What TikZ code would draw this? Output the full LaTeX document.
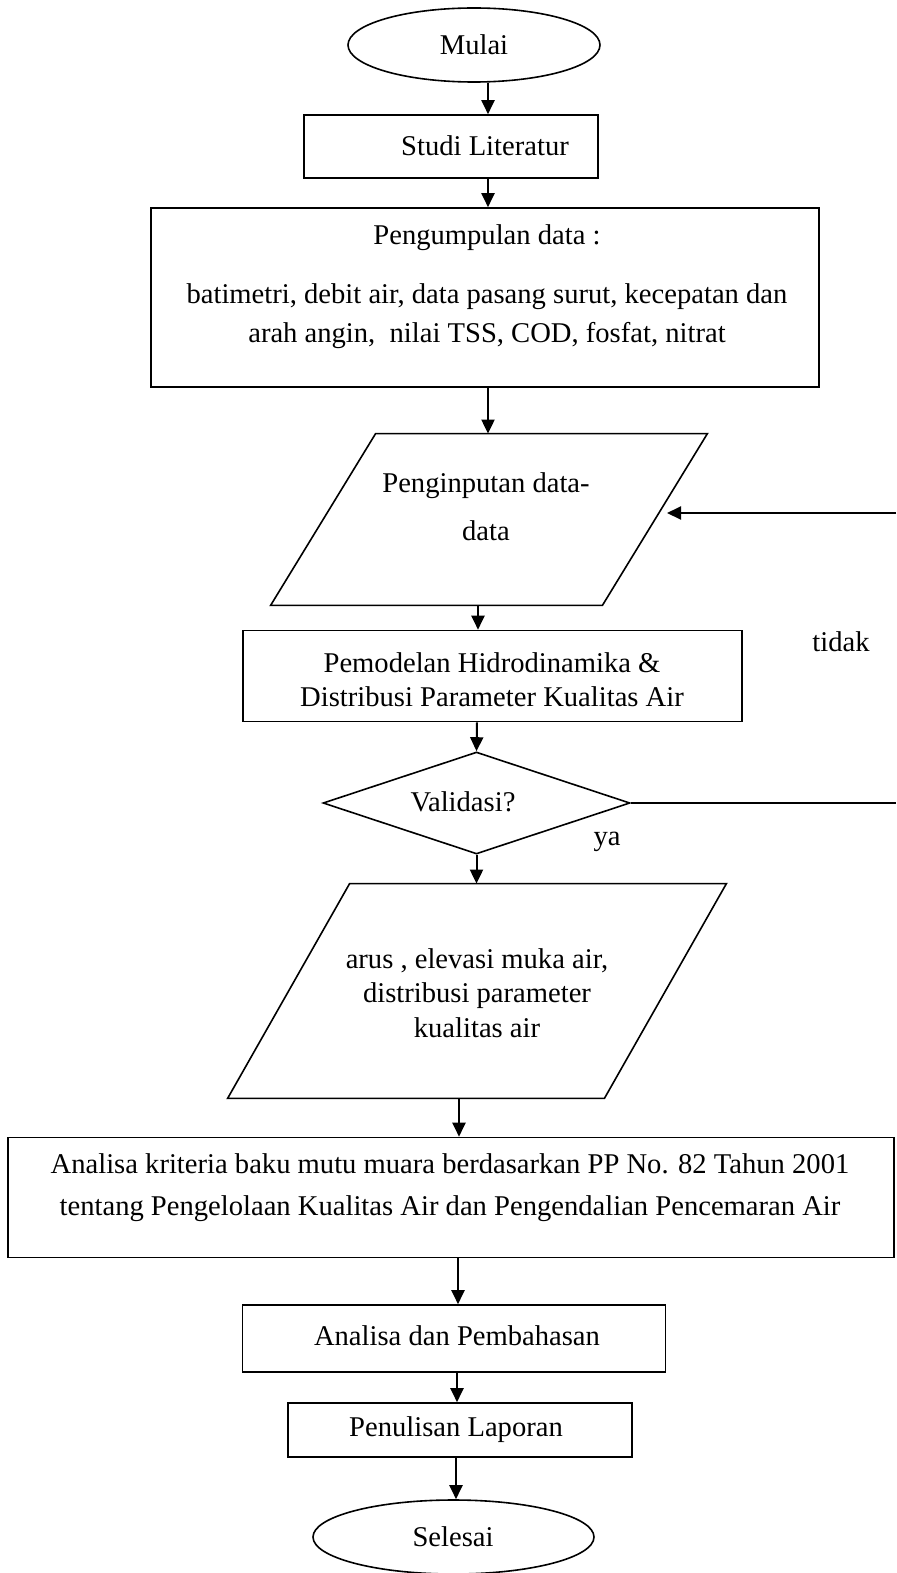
\documentclass[tikz,border=0pt]{standalone}
\usepackage{fontspec}
\setmainfont{Liberation Serif}
\usetikzlibrary{shapes.geometric,arrows.meta}
\begin{document}
\begin{tikzpicture}[x=0.5pt,y=-0.5pt,
  txt/.style={font=\fontsize{14.3}{17}\selectfont, align=center, inner sep=0pt},
  shp/.style={draw, line width=0.8pt, inner sep=0pt},
  ghost/.style={inner sep=0pt},
  arr/.style={line width=1pt, -{Triangle[length=7pt,width=6.5pt]}},
  ln/.style={line width=0.8pt}]
\useasboundingbox (0,0) rectangle (896,1573);
% shapes
\node[shp, ellipse, minimum width=126pt, minimum height=37pt] (mulai) at (474,45) {};
\node[shp, rectangle, minimum width=147pt, minimum height=31.5pt] (studi) at (451,146.5) {};
\node[shp, rectangle, minimum width=334pt, minimum height=89.5pt] (peng) at (485,297.5) {};
\node[ghost, minimum width=218pt, minimum height=85.5pt] (par1) at (489,519.5) {};
\draw[ln] ([xshift=52.5pt]par1.north west) -- (par1.north east) -- ([xshift=-52.5pt]par1.south east) -- (par1.south west) -- cycle;
\node[shp, rectangle, minimum width=249.5pt, minimum height=45.5pt] (pem) at (492.5,676) {};
\node[shp, diamond, minimum width=153.5pt, minimum height=51pt] (dia) at (476.5,803) {};
\node[ghost, minimum width=249pt, minimum height=107pt] (par2) at (477,991) {};
\draw[ln] ([xshift=61pt]par2.north west) -- (par2.north east) -- ([xshift=-61pt]par2.south east) -- (par2.south west) -- cycle;
\node[shp, rectangle, minimum width=443pt, minimum height=60pt] (big) at (451,1197.5) {};
\node[shp, rectangle, minimum width=211.5pt, minimum height=33.5pt] (ana) at (454,1338.5) {};
\node[shp, rectangle, minimum width=172pt, minimum height=27pt] (tulis) at (460,1430) {};
\node[shp, ellipse, minimum width=140.5pt, minimum height=37pt] (selesai) at (453.5,1537) {};
% texts
\node[txt] (tmulai) at (474,45) {Mulai};
\node[txt] (tstudi) at (485,146) {Studi Literatur};
\node[txt] (tpeng1) at (487,238) {Pengumpulan data :};
\node[txt, font=\fontsize{14.3}{19.5}\selectfont] (tpeng2) at (487,316) {batimetri, debit air, data pasang surut, kecepatan dan\\arah angin,\ \ nilai TSS, COD, fosfat, nitrat};
\node[txt, font=\fontsize{14.3}{24}\selectfont] (tpar1) at (486,507) {Penginputan data-\\data};
\node[txt] (tpem) at (492,680) {Pemodelan Hidrodinamika \&\\Distribusi Parameter Kualitas Air};
\node[txt] (tdia) at (463,802) {Validasi?};
\node[txt] (tya) at (607,842) {ya};
\node[txt] (ttidak) at (841,642) {tidak};
\node[txt, font=\fontsize{14.3}{17.3}\selectfont] (tpar2) at (477,993) {arus , elevasi muka air,\\distribusi parameter\\kualitas air};
\node[txt, font=\fontsize{14.3}{21}\selectfont] (tbig) at (450,1188) {Analisa kriteria baku mutu muara berdasarkan PP No. 82 Tahun 2001\\tentang Pengelolaan Kualitas Air dan Pengendalian Pencemaran Air};
\node[txt] (tana) at (457,1336) {Analisa dan Pembahasan};
\node[txt] (ttulis) at (456,1430) {Penulisan Laporan};
\node[txt] (tselesai) at (453,1537) {Selesai};
% feedback coordinates
\coordinate (fbA) at (896,803);
\coordinate (fbB) at (896,513);
\coordinate (fbEnd) at (667,513);
% connectors
\draw[arr] (mulai.south -| 488,0) -- (studi.north -| 488,0);
\draw[arr] (studi.south -| 488,0) -- (peng.north -| 488,0);
\draw[arr] (peng.south -| 488,0) -- (par1.north -| 488,0);
\draw[arr] (par1.south -| 478,0) -- (pem.north -| 478,0);
\draw[arr] (pem.south -| 477,0) -- (dia.north);
\draw[arr] (dia.south) -- (par2.north -| 476.5,0);
\draw[arr] (par2.south -| 459,0) -- (big.north -| 459,0);
\draw[arr] (big.south -| 458,0) -- (ana.north -| 458,0);
\draw[arr] (ana.south -| 457,0) -- (tulis.north -| 457,0);
\draw[arr] (tulis.south -| 456,0) -- (selesai.north -| 456,0);
\draw[line width=1pt] (dia.east) -- (fbA);
\draw[arr] (fbB) -- (fbEnd);
\end{tikzpicture}
\end{document}
